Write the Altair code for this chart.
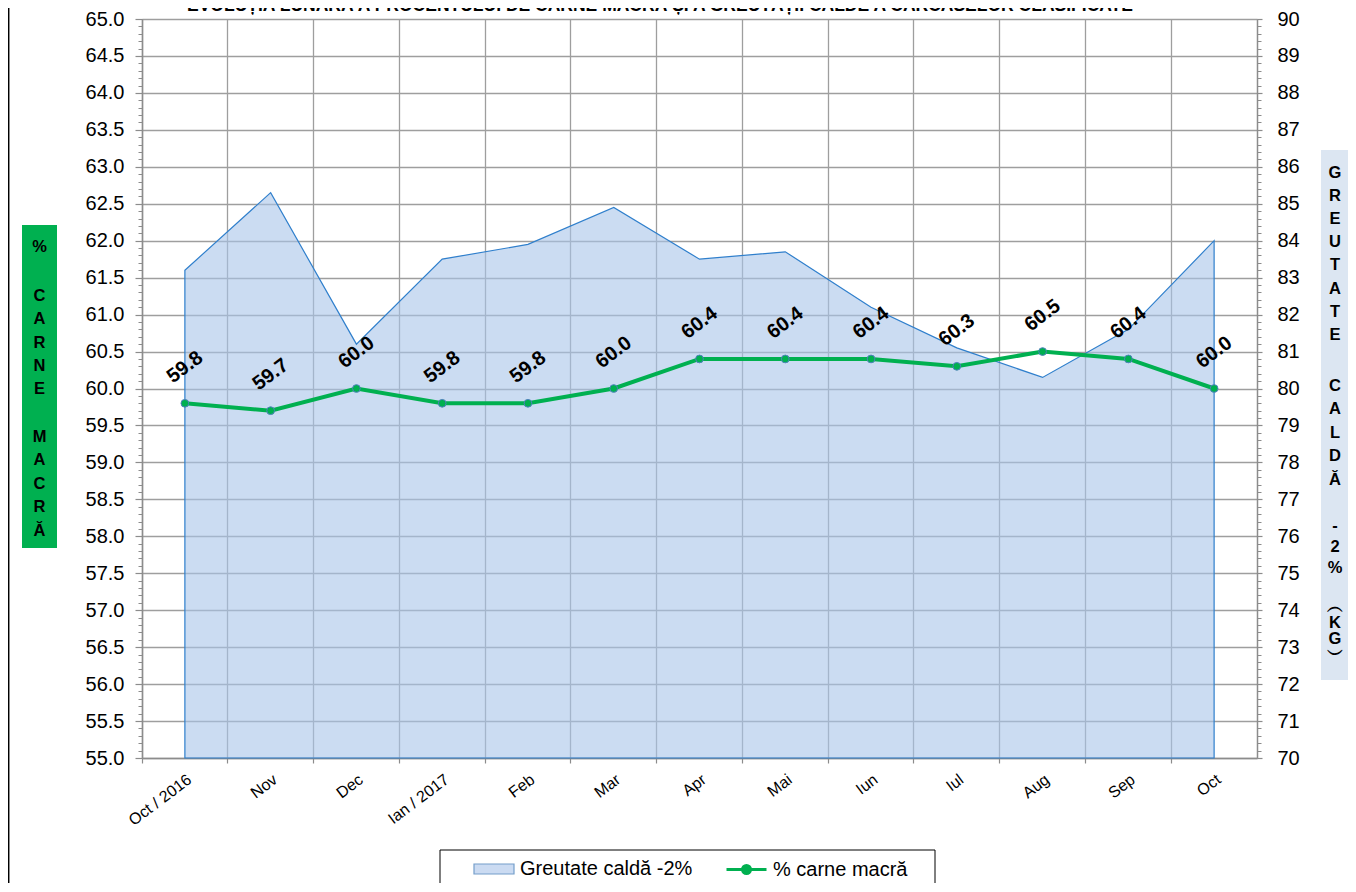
import altair as alt
import pandas as pd

# ---------------- data ----------------
months = ["Oct / 2016", "Nov", "Dec", "Ian / 2017", "Feb", "Mar", "Apr",
          "Mai", "Iun", "Iul", "Aug", "Sep", "Oct"]
lean_pct = [59.8, 59.7, 60.0, 59.8, 59.8, 60.0, 60.4, 60.4, 60.4, 60.3, 60.5, 60.4, 60.0]
warm_weight = [83.2, 85.3, 81.2, 83.5, 83.9, 84.9, 83.5, 83.7, 82.2, 81.1, 80.3, 81.6, 84.0]

series_area = "Greutate caldă -2%"
series_line = "% carne macră"

left_ticks = [55.0, 55.5, 56.0, 56.5, 57.0, 57.5, 58.0, 58.5, 59.0, 59.5, 60.0,
              60.5, 61.0, 61.5, 62.0, 62.5, 63.0, 63.5, 64.0, 64.5, 65.0]
right_ticks = [70, 71, 72, 73, 74, 75, 76, 77, 78, 79, 80,
               81, 82, 83, 84, 85, 86, 87, 88, 89, 90]
left_minor = [round(55 + 0.1 * i, 1) for i in range(101)]
right_minor = [round(70 + 0.2 * i, 1) for i in range(101)]

title_text = "EVOLUȚIA LUNARĂ A PROCENTULUI DE CARNE MACRĂ ȘI A GREUTĂȚII CALDE A CARCASELOR CLASIFICATE"
# vertical (stacked-letter) axis titles, one block per word
left_title_words = [["%"], ["C", "A", "R", "N", "E"], ["M", "A", "C", "R", "Ă"]]
right_title_words = [["G", "R", "E", "U", "T", "A", "T", "E"], ["C", "A", "L", "D", "Ă"],
                     ["-", "2", "%"], ["︵", "K", "G", "︶"]]

df = pd.DataFrame({
    "luna": months,
    "carne": lean_pct,
    "greutate": warm_weight,
    "eticheta": [f"{v:.1f}" for v in lean_pct],
    "serie_a": [series_area] * len(months),
    "serie_l": [series_line] * len(months),
})

# ---------------- style ----------------
FONT = "Liberation Sans"
GREEN = "#00B050"
AREA_FILL = "#A9C4EA"
AREA_STROKE = "#2F7FCC"
AXIS_GREY = "#8C8C8C"
GRID_GREY = "#9E9E9E"
W, H = 1115, 739

x_enc = alt.X(
    "luna:N", sort=months, bandPosition=0.5, title=None,
    scale=alt.Scale(type="band", paddingInner=0, paddingOuter=0),
    axis=alt.Axis(
        orient="bottom", bandPosition=0,
        labelAngle=323, labelAlign="right", labelBaseline="top",
        labelFontSize=16, labelColor="black", labelPadding=8,
        labelOverlap=False, labelFlush=False, labelBound=False,
        tickSize=5, tickColor=AXIS_GREY, tickWidth=1.2,
        domainColor=AXIS_GREY, domainWidth=1.5,
        grid=True, gridColor=GRID_GREY, gridWidth=1.3,
    ),
)

left_scale = alt.Scale(domain=[55, 65], nice=False, zero=False)
right_scale = alt.Scale(domain=[70, 90], nice=False, zero=False)

y_left = alt.Y(
    "carne:Q", scale=left_scale, title=None,
    axis=alt.Axis(
        orient="left", values=left_ticks, format=".1f",
        labelFontSize=20, labelColor="black", labelPadding=11,
        tickSize=7, tickColor=AXIS_GREY, tickWidth=1.2,
        domainColor=AXIS_GREY, domainWidth=1.5,
        grid=True, gridColor=GRID_GREY, gridWidth=1.3,
    ),
)

y_right = alt.Y(
    "greutate:Q", scale=right_scale, title=None,
    axis=alt.Axis(
        orient="right", values=right_ticks, format="d",
        labelFontSize=20, labelColor="black", labelPadding=15,
        tickSize=5, tickColor=AXIS_GREY, tickWidth=1.2,
        domainColor=AXIS_GREY, domainWidth=1.5, grid=False,
    ),
)

base = alt.Chart(df)

area = base.mark_area(
    fillOpacity=0.6, stroke=AREA_STROKE, strokeWidth=1.2, interpolate="linear"
).encode(
    x=x_enc,
    y=y_right,
    y2=alt.datum(70),
    fill=alt.Fill(
        "serie_a:N",
        scale=alt.Scale(domain=[series_area], range=[AREA_FILL]),
        legend=alt.Legend(
            title=None, orient="none", legendX=331, legendY=829,
            symbolType="M-1,-0.25H1V0.25H-1Z", symbolSize=1600,
            symbolOpacity=0.6, symbolStrokeColor="#1A5FA8", symbolStrokeWidth=1.2,
            labelFontSize=20, labelColor="black", labelOffset=5, labelFont=FONT,
            labelLimit=400,
        ),
    ),
)

line = base.mark_line(strokeWidth=4).encode(
    x=x_enc,
    y=y_left,
    stroke=alt.Stroke(
        "serie_l:N",
        scale=alt.Scale(domain=[series_line], range=[GREEN]),
        legend=alt.Legend(
            title=None, orient="none", legendX=583, legendY=829,
            symbolType="M-1,0H1M-0.2,0A0.2,0.2,0,1,0,0.2,0A0.2,0.2,0,1,0,-0.2,0Z",
            symbolSize=1600, symbolFillColor=GREEN, symbolStrokeWidth=3,
            labelFontSize=20, labelColor="black", labelOffset=5, labelFont=FONT,
            labelLimit=400,
        ),
    ),
)

points = base.mark_circle(
    size=60, color=GREEN, stroke="#4F81BD", strokeWidth=1, opacity=1
).encode(x=x_enc, y=y_left)

labels = base.mark_text(
    angle=323, fontSize=20, fontWeight="bold", font=FONT, color="black",
    align="center", baseline="middle", dx=21.7, dy=-28.8,
).encode(x=x_enc, y=y_left, text="eticheta:N")

lean_layer = alt.layer(line, points, labels)

minor_l = base.mark_point(opacity=0).encode(
    x=x_enc,
    y=alt.Y("carne:Q", scale=left_scale, title=None,
            axis=alt.Axis(orient="left", values=left_minor, labels=False, grid=False,
                          domain=False, tickSize=4, tickColor=AXIS_GREY, tickWidth=1)),
)
minor_r = base.mark_point(opacity=0).encode(
    x=x_enc,
    y=alt.Y("greutate:Q", scale=right_scale, title=None,
            axis=alt.Axis(orient="right", values=right_minor, labels=False, grid=False,
                          domain=False, tickSize=4, tickColor=AXIS_GREY, tickWidth=1)),
)

one = pd.DataFrame({"k": [0]})
deco = alt.Chart(one)

# title: only its lower part shows at the top edge, as in the reference
title = deco.mark_text(
    text=title_text, fontSize=17.5, fontWeight="bold", font=FONT, color="black",
    align="center", baseline="alphabetic",
).encode(x=alt.value(518), y=alt.value(-8))


def word_block(letters, x, y, lh):
    return deco.mark_text(
        text=letters, fontSize=16.5, fontWeight="bold", font=FONT, color="black",
        align="center", baseline="middle", lineHeight=lh,
    ).encode(x=alt.value(x), y=alt.value(y))


left_box = deco.mark_rect(fill=GREEN).encode(
    x=alt.value(-120), x2=alt.value(-85), y=alt.value(206), y2=alt.value(529))
left_blocks = [
    word_block(left_title_words[0], -102.5, 228, 23.4),
    word_block(left_title_words[1], -102.5, 277, 23.3),
    word_block(left_title_words[2], -102.5, 418, 23.4),
]

right_box = deco.mark_rect(fill="#DCE6F2").encode(
    x=alt.value(1179), x2=alt.value(1206), y=alt.value(131), y2=alt.value(661))
right_blocks = [
    word_block(right_title_words[0], 1193, 154, 23.1),
    word_block(right_title_words[1], 1193, 367, 23.4),
    word_block(right_title_words[2], 1193, 507, 21),
    word_block(right_title_words[3], 1193, 588, 16),
]

legend_box = deco.mark_rect(filled=False, stroke="black", strokeWidth=1).encode(
    x=alt.value(298), x2=alt.value(793), y=alt.value(831), y2=alt.value(865))

frame_left = deco.mark_rule(color="black", strokeWidth=1.5).encode(
    x=alt.value(-133.3), y=alt.value(-11), y2=alt.value(H + 125))

chart = alt.layer(
    area, lean_layer, minor_l, minor_r,
    title, left_box, *left_blocks, right_box, *right_blocks, legend_box, frame_left,
).resolve_scale(
    y="independent", fill="independent", stroke="independent"
).properties(
    width=W, height=H,
    autosize=alt.AutoSizeParams(type="none"),
    padding={"left": 134, "top": 11, "right": 91, "bottom": 125},
    background="white",
).configure(
    font=FONT,
).configure_view(
    stroke=None,
).configure_axis(
    labelFont=FONT,
).configure_legend(
    labelFont=FONT,
)

chart.save("out.html", embed_options={"renderer": "svg", "actions": False})
